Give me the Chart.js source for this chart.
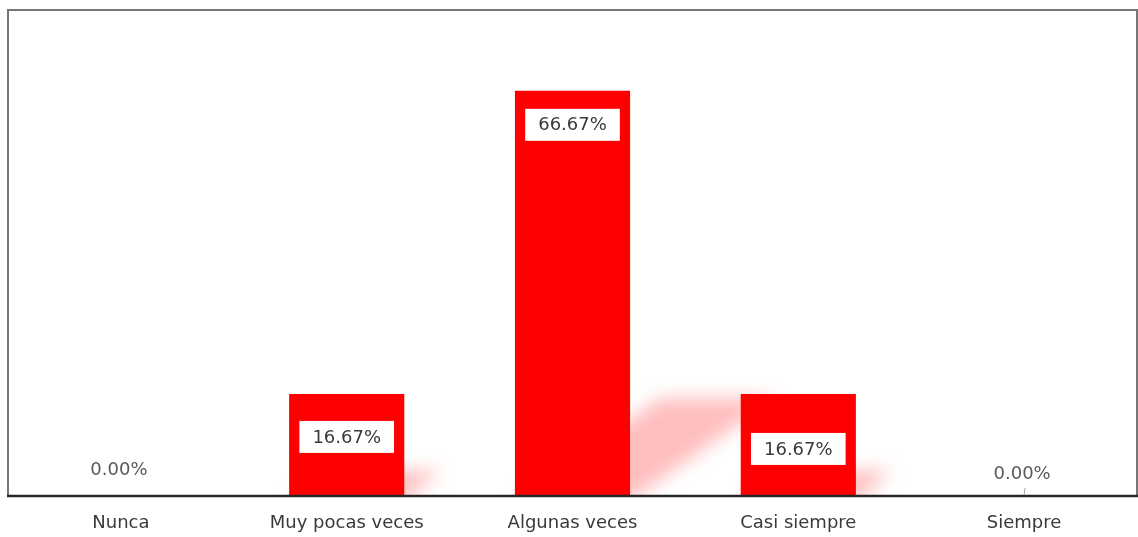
<!DOCTYPE html>
<html>
<head>
<meta charset="utf-8">
<script src="https://cdn.jsdelivr.net/npm/chart.js@4.4.1/dist/chart.umd.min.js"></script>
<style>
  html, body { margin: 0; padding: 0; background: #ffffff; }
  #wrap { width: 1138px; height: 537px; position: relative; }
</style>
</head>
<body>
<div id="wrap"><canvas id="c"></canvas></div>
<script>
// ---- data ----
const categories = ["Nunca", "Muy pocas veces", "Algunas veces", "Casi siempre", "Siempre"];
const percentages = [0.00, 16.67, 66.67, 16.67, 0.00];
const valueLabels = ["0.00%", "16.67%", "66.67%", "16.67%", "0.00%"];
const yAxisMax = 80;

// ---- styling (not data) ----
const labelOffsets = [-25, 43, 34, 55, -21];   // px from bar top to label centre
const FONT = "'DejaVu Sans', 'Open Sans', sans-serif";

const framePlugin = {
  id: 'frame',
  beforeDatasetsDraw(chart) {
    const { ctx, chartArea: a } = chart;
    const meta = chart.getDatasetMeta(0);
    ctx.save();
    ctx.beginPath();
    ctx.rect(a.left, a.top, a.right - a.left, a.bottom - a.top);
    ctx.clip();
    ctx.filter = 'blur(9px)';
    ctx.fillStyle = 'rgba(255,40,40,0.30)';
    meta.data.forEach((bar) => {
      const base = bar.base;
      const hBar = base - bar.y;
      if (hBar <= 1) return;
      const half = bar.width / 2;
      const sh = hBar * 0.24;
      const dx = hBar * 0.36;
      ctx.beginPath();
      ctx.moveTo(bar.x - half, base + 6);
      ctx.lineTo(bar.x + half, base + 6);
      ctx.lineTo(bar.x + half + dx, base - sh);
      ctx.lineTo(bar.x - half + dx, base - sh);
      ctx.closePath();
      ctx.fill();
    });
    ctx.restore();
  },
  afterDraw(chart) {
    const { ctx, chartArea: a } = chart;
    ctx.save();
    ctx.strokeStyle = '#767676';
    ctx.lineWidth = 2;
    ctx.beginPath();
    ctx.moveTo(a.left, a.bottom);
    ctx.lineTo(a.left, a.top);
    ctx.lineTo(a.right, a.top);
    ctx.lineTo(a.right, a.bottom);
    ctx.stroke();
    ctx.strokeStyle = '#262626';
    ctx.lineWidth = 2.5;
    ctx.beginPath();
    ctx.moveTo(a.left - 1, a.bottom + 1);
    ctx.lineTo(a.right + 1, a.bottom + 1);
    ctx.stroke();

    const meta = chart.getDatasetMeta(0);
    ctx.font = "18px " + FONT;
    ctx.textAlign = 'center';
    ctx.textBaseline = 'middle';
    meta.data.forEach((bar, i) => {
      const txt = valueLabels[i];
      const cy = bar.y + labelOffsets[i];
      const v = percentages[i];
      if (v > 0) {
        const w = ctx.measureText(txt).width + 26;
        const h = 32;
        ctx.fillStyle = '#ffffff';
        ctx.fillRect(bar.x - w / 2, cy - h / 2, w, h);
        ctx.fillStyle = '#3a3a3a';
        ctx.fillText(txt, bar.x, cy + 1);
      } else {
        ctx.fillStyle = '#595959';
        ctx.fillText(txt, bar.x - 2, cy);
        if (i === meta.data.length - 1) {
          ctx.strokeStyle = '#a6a6a6';
          ctx.lineWidth = 1;
          ctx.beginPath();
          ctx.moveTo(bar.x + 1, cy + 14);
          ctx.lineTo(bar.x, cy + 21);
          ctx.stroke();
        }
      }
    });
    ctx.restore();
  }
};

new Chart(document.getElementById('c'), {
  type: 'bar',
  data: {
    labels: categories,
    datasets: [{
      data: percentages,
      backgroundColor: '#ff0000',
      borderWidth: 0,
      barPercentage: 0.51,
      categoryPercentage: 1.0
    }]
  },
  options: {
    responsive: true,
    maintainAspectRatio: false,
    animation: false,
    layout: { padding: { left: 8, right: 1, top: 10, bottom: 0 } },
    plugins: { legend: { display: false }, tooltip: { enabled: false } },
    scales: {
      y: { display: false, min: 0, max: yAxisMax },
      x: {
        grid: { display: false, drawTicks: false },
        border: { display: false },
        afterFit(scale) { scale.height = 42; },
        ticks: {
          color: '#3a3a3a',
          padding: 18,
          font: { family: FONT, size: 18 }
        }
      }
    }
  },
  plugins: [framePlugin]
});
</script>
</body>
</html>
